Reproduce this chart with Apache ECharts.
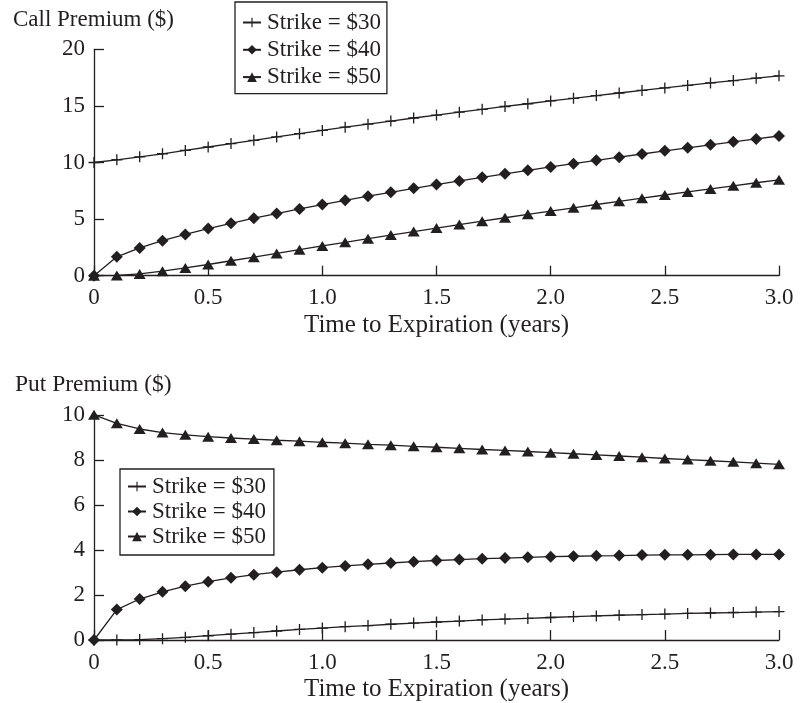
<!DOCTYPE html>
<html>
<head>
<meta charset="utf-8">
<script src="https://cdn.jsdelivr.net/npm/echarts@6/dist/echarts.min.js"></script>
<style>
html,body{margin:0;padding:0;background:#fff;}
#chart{width:801px;height:703px;}
</style>
</head>
<body>
<div id="chart"></div>
<script>
// Time to expiration (years)
var times = [0,0.1,0.2,0.3,0.4,0.5,0.6,0.7,0.8,0.9,1.0,1.1,1.2,1.3,1.4,1.5,1.6,1.7,1.8,1.9,2.0,2.1,2.2,2.3,2.4,2.5,2.6,2.7,2.8,2.9,3.0];
var seriesNames = ['Strike = $30','Strike = $40','Strike = $50'];
var callTitle = 'Call Premium ($)';
var putTitle = 'Put Premium ($)';
var xTitle = 'Time to Expiration (years)';

var call30 = [10,10.24,10.50,10.77,11.07,11.37,11.67,11.96,12.26,12.55,12.83,13.12,13.39,13.66,13.93,14.19,14.45,14.70,14.95,15.19,15.44,15.67,15.91,16.14,16.37,16.59,16.81,17.03,17.24,17.45,17.66];
var call40 = [0,1.67,2.45,3.09,3.65,4.16,4.63,5.08,5.49,5.90,6.28,6.66,7.02,7.37,7.72,8.05,8.37,8.69,9.00,9.31,9.61,9.90,10.19,10.47,10.75,11.03,11.30,11.56,11.83,12.08,12.34];
var call50 = [0,0.02,0.16,0.40,0.69,0.99,1.32,1.64,1.97,2.30,2.63,2.95,3.27,3.59,3.90,4.21,4.52,4.82,5.12,5.42,5.71,6.00,6.29,6.57,6.85,7.13,7.40,7.67,7.94,8.21,8.47];
var put30 = [0,0.00,0.02,0.06,0.12,0.19,0.26,0.33,0.40,0.47,0.53,0.59,0.64,0.70,0.75,0.80,0.84,0.89,0.93,0.96,1.00,1.04,1.07,1.10,1.13,1.15,1.18,1.20,1.22,1.24,1.26];
var put40 = [0,1.35,1.82,2.14,2.39,2.59,2.76,2.90,3.01,3.12,3.21,3.29,3.36,3.42,3.48,3.53,3.57,3.61,3.64,3.67,3.70,3.72,3.74,3.75,3.77,3.78,3.78,3.79,3.80,3.80,3.80];
var put50 = [10,9.62,9.37,9.21,9.11,9.03,8.97,8.92,8.87,8.83,8.78,8.74,8.69,8.65,8.60,8.56,8.51,8.46,8.42,8.37,8.32,8.27,8.22,8.17,8.12,8.06,8.01,7.96,7.91,7.85,7.80];

var INK = '#231f20';
var FONT = '"Liberation Serif", "Times New Roman", serif';
var PLUS = 'path://M4.4,0 H5.6 V4.4 H10 V5.6 H5.6 V10 H4.4 V5.6 H0 V4.4 H4.4 Z';
var symbols = [PLUS, 'diamond', 'triangle'];
var symSizes = [11, 12, [12, 10]];

function pairs(arr){ return times.map(function(t,i){ return [t, arr[i]]; }); }

function xAxis(gridIndex){
  return {
    type:'value', gridIndex:gridIndex, min:0, max:3, interval:0.5,
    name: xTitle, nameLocation:'middle', nameGap:37,
    nameTextStyle:{color:INK, fontFamily:FONT, fontSize:25},
    axisLine:{show:true, lineStyle:{color:INK, width:1.3}},
    axisTick:{show:true, inside:true, length:10, lineStyle:{color:INK, width:1.3}},
    axisLabel:{color:INK, fontFamily:FONT, fontSize:23, margin:11,
      formatter:function(v){ return v===0 ? '0' : v.toFixed(1); }},
    splitLine:{show:false}
  };
}
function yAxis(gridIndex, max, interval){
  return {
    type:'value', gridIndex:gridIndex, min:0, max:max, interval:interval,
    axisLine:{show:true, lineStyle:{color:INK, width:1.3}},
    axisTick:{show:true, inside:true, length:10, lineStyle:{color:INK, width:1.3}},
    axisLabel:{color:INK, fontFamily:FONT, fontSize:23, margin:9},
    splitLine:{show:false}
  };
}
function mkSeries(name, data, idx, gi){
  return {
    type:'line', name:name, xAxisIndex:gi, yAxisIndex:gi,
    data:pairs(data), symbol:symbols[idx], symbolSize:symSizes[idx],
    showAllSymbol:true, clip:false, smooth:false,
    lineStyle:{color:INK, width:1.3},
    itemStyle:{color:INK, borderWidth:0},
    emphasis:{disabled:true}
  };
}
function legend(left, top, gap, padding){
  return {
    data:seriesNames.map(function(n){ return {name:n}; }),
    orient:'vertical', left:left, top:top, itemGap:gap,
    itemWidth:18, itemHeight:12,
    padding:padding,
    borderColor:INK, borderWidth:1.3, backgroundColor:'#fff',
    textStyle:{color:INK, fontFamily:FONT, fontSize:23, lineHeight:20, padding:[0,0,0,1]},
    selectedMode:false
  };
}

var chart = echarts.init(document.getElementById('chart'), null, {renderer:'canvas'});
var option = {
  animation:false,
  backgroundColor:'#fff',
  title:[
    {text:callTitle, left:13, top:8, padding:0, textStyle:{color:INK, fontFamily:FONT, fontSize:23, fontWeight:'normal'}},
    {text:putTitle, left:15, top:373, padding:0, textStyle:{color:INK, fontFamily:FONT, fontSize:23.5, fontWeight:'normal'}}
  ],
  grid:[
    {left:94, right:22, top:49.3, height:226.4},
    {left:94, right:22, top:414.8, height:226.5}
  ],
  xAxis:[xAxis(0), xAxis(1)],
  yAxis:[yAxis(0,20,5), yAxis(1,10,2)],
  legend:[legend(235,2,4.3,[9,6,5,7]), legend(120,469,2,[6,8,7,7])],
  series:[
    mkSeries(seriesNames[0], call30, 0, 0),
    mkSeries(seriesNames[1], call40, 1, 0),
    mkSeries(seriesNames[2], call50, 2, 0),
    mkSeries(seriesNames[0], put30, 0, 1),
    mkSeries(seriesNames[1], put40, 1, 1),
    mkSeries(seriesNames[2], put50, 2, 1)
  ]
};
chart.setOption(option);
</script>
</body>
</html>
